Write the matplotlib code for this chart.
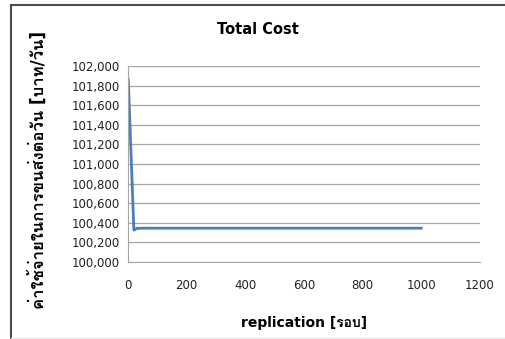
import numpy as np
import matplotlib.pyplot as plt
from matplotlib import font_manager
from matplotlib.lines import Line2D
from matplotlib.ticker import FuncFormatter


replication = [1, 20, 30, 50, 100, 200, 300, 400, 500, 600, 700, 800, 900, 1000]
total_cost = [101860, 100325, 100343, 100345, 100345, 100345, 100345, 100345,
              100345, 100345, 100345, 100345, 100345, 100345]

y_ticks = np.arange(100000, 102001, 200)
x_ticks = np.arange(0, 1201, 200)


def thai_font():
    '''
    Look for an installed font that has Thai glyphs
    '''
    try:
        from fontTools.ttLib import TTFont
    except ImportError:
        return None
    for f in font_manager.fontManager.ttflist:
        try:
            cmap = TTFont(f.fname, fontNumber=0, lazy=True).getBestCmap()
        except Exception:
            continue
        if cmap and 0x0E04 in cmap and 0x0E1A in cmap:
            return f.name
    return None


th = thai_font()
families = ['DejaVu Sans'] + ([th] if th else [])
plt.rcParams['font.family'] = families

fig = plt.figure(figsize=(5.05, 3.39), dpi=100)
ax = fig.add_axes([128 / 505, 1 - 262 / 339, (480 - 128) / 505, (262 - 66) / 339])

ax.plot(replication, total_cost, color='#4a7ebb', lw=2)

ax.set_xlim(0, 1200)
ax.set_ylim(100000, 102000)
ax.set_xticks(x_ticks)
ax.set_yticks(y_ticks)
ax.yaxis.set_major_formatter(FuncFormatter(lambda v, p: f'{int(v):,}'))
ax.tick_params(length=0, labelsize=8.5, colors='#222222', pad=6)
ax.tick_params(axis='x', pad=12)
ax.grid(axis='y', color='#a6a6a6', lw=0.9)
ax.set_axisbelow(True)
for s in ['top', 'right']:
    ax.spines[s].set_visible(False)
for s in ['left', 'bottom']:
    ax.spines[s].set_color('#a6a6a6')

fig.text(258 / 505, 1 - 29 / 339, 'Total Cost', ha='center', va='center',
         fontsize=10.5, fontweight='bold')
fig.text(304 / 505, 1 - 323 / 339, 'replication [รอบ]', ha='center', va='center',
         fontsize=10, fontweight='bold')
fig.text(38 / 505, 1 - 170 / 339, 'ค่าใช้จ่ายในการขนส่งต่อวัน [บาท/วัน]', ha='center',
         va='center', rotation=90, fontsize=12, fontweight='bold')

# chart frame: dark left and top edge, faint bottom edge
fig.lines.append(Line2D([10.5 / 505, 10.5 / 505], [0, 1 - 5 / 339],
                        transform=fig.transFigure, color='#4d4d4d', lw=1.5))
fig.lines.append(Line2D([10.5 / 505, 1], [1 - 5 / 339, 1 - 5 / 339],
                        transform=fig.transFigure, color='#4d4d4d', lw=1.5))
fig.lines.append(Line2D([10.5 / 505, 1], [1.5 / 339, 1.5 / 339],
                        transform=fig.transFigure, color='#e6e6e6', lw=1))

fig.savefig('out.png', dpi=100)
